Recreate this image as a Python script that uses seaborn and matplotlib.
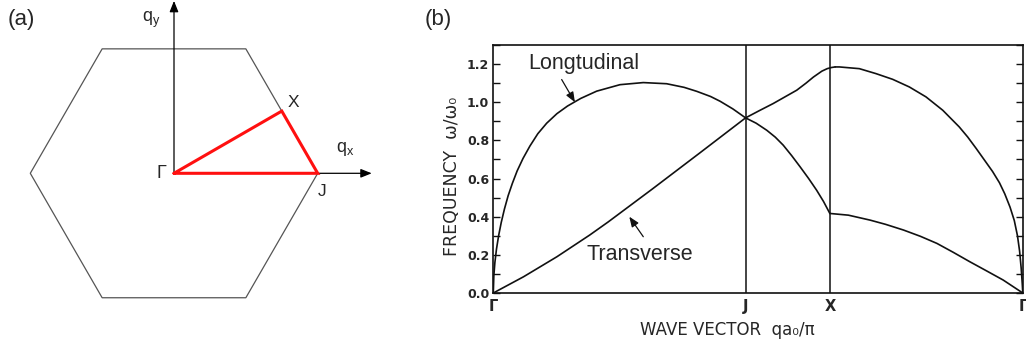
import numpy as np
import pandas as pd
import matplotlib
matplotlib.use("Agg")
import matplotlib.pyplot as plt
import seaborn as sns
from matplotlib.ticker import MultipleLocator, FixedLocator

# ---- dispersion data (q in units of the path length, frequency in ω/ω0) ----
path_labels = ["Γ", "J", "X", "Γ"]
path_pos = [0.0, 0.476, 0.635, 1.0]
freq_ticks = [0.0, 0.2, 0.4, 0.6, 0.8, 1.0, 1.2]

# longitudinal branch along Γ → J → X
q_long = [0.0, 0.001, 0.003, 0.006, 0.010, 0.015, 0.021, 0.028, 0.036,
          0.045, 0.056, 0.069, 0.084, 0.1007, 0.12, 0.14, 0.165, 0.195,
          0.239, 0.283, 0.327, 0.36, 0.384, 0.41, 0.428, 0.452, 0.476,
          0.496, 0.516, 0.532, 0.547, 0.563, 0.579, 0.595, 0.610, 0.623,
          0.635]
w_long = [0.0, 0.09, 0.16, 0.23, 0.30, 0.37, 0.44, 0.51, 0.575,
          0.64, 0.705, 0.77, 0.835, 0.89, 0.94, 0.98, 1.02, 1.058,
          1.092, 1.103, 1.097, 1.078, 1.057, 1.03, 1.005, 0.965, 0.918,
          0.89, 0.853, 0.817, 0.775, 0.72, 0.661, 0.60, 0.539, 0.48,
          0.417]

# transverse branch along Γ → J → X
q_trans = [0.0, 0.057, 0.12, 0.182, 0.217, 0.30, 0.39, 0.476, 0.502,
           0.528, 0.5725, 0.59, 0.604, 0.620, 0.630, 0.638, 0.645]
w_trans = [0.0, 0.085, 0.19, 0.304, 0.373, 0.545, 0.735, 0.918, 0.956,
           0.993, 1.063, 1.10, 1.132, 1.163, 1.176, 1.182, 1.185]

# upper branch along X → Γ
q_xg_upper = [0.645, 0.653, 0.6906, 0.722, 0.7536, 0.785, 0.8164, 0.848,
              0.879, 0.895, 0.911, 0.942, 0.955, 0.965, 0.975, 0.983, 0.989,
              0.993, 0.996, 0.998, 0.999]
w_xg_upper = [1.185, 1.185, 1.176, 1.150, 1.120, 1.080, 1.028, 0.958,
              0.871, 0.818, 0.758, 0.637, 0.578, 0.52, 0.45, 0.38, 0.30,
              0.22, 0.13, 0.05, 0.0]

# lower branch along X → Γ
q_xg_lower = [0.635, 0.67, 0.711, 0.74, 0.774, 0.806, 0.837, 0.868, 0.899,
              0.93, 0.962, 0.999]
w_xg_lower = [0.417, 0.408, 0.382, 0.36, 0.330, 0.297, 0.26, 0.213, 0.164,
              0.117, 0.068, 0.0]

branches = pd.concat([
    pd.DataFrame({"q": q_long, "w": w_long, "branch": "long"}),
    pd.DataFrame({"q": q_trans, "w": w_trans, "branch": "trans"}),
    pd.DataFrame({"q": q_xg_upper, "w": w_xg_upper, "branch": "xg_upper"}),
    pd.DataFrame({"q": q_xg_lower, "w": w_xg_lower, "branch": "xg_lower"}),
], ignore_index=True)

sns.set_theme(style="white")
plt.rcParams["font.family"] = ["Liberation Sans", "DejaVu Sans"]

W, H = 1026, 348
fig = plt.figure(figsize=(W / 100, H / 100), dpi=100)

# ---------------- (a) hexagonal Brillouin zone ----------------
R = 143.7  # vertex radius in pixels
axa = fig.add_axes([0, 0, 400 / W, 1])
axa.set_xlim(-174 / R, 226 / R)
axa.set_ylim(-174.7 / R, 173.3 / R)
axa.axis("off")

ang = np.deg2rad(np.arange(0, 361, 60))
axa.plot(np.cos(ang), np.sin(ang), color="#555555", lw=0.9, zorder=1)

arrow_kw = dict(arrowstyle="-|>,head_length=0.55,head_width=0.22",
                color="black", lw=0.9, shrinkA=0, shrinkB=0)
axa.annotate("", xy=(1.376, 0), xytext=(0, 0), arrowprops=arrow_kw, zorder=2)
axa.annotate("", xy=(0, 1.20), xytext=(0, 0), arrowprops=arrow_kw, zorder=2)

pt_J = (1.0, 0.0)
pt_X = (0.75, np.sqrt(3) / 4)
axa.plot([0, pt_J[0], pt_X[0], 0], [0, pt_J[1], pt_X[1], 0],
         color="#ff1010", lw=2.2, solid_joinstyle="miter", zorder=3)

axa.text(-0.055, 0.0, "Γ", fontsize=13, ha="right", va="center")
axa.text(0.83, 0.49, "X", fontsize=12.5, ha="center", va="center")
axa.text(1.03, -0.125, "J", fontsize=12.5, ha="center", va="center")
axa.text(1.19, 0.17, r"q$_\mathregular{x}$", fontsize=13, ha="center", va="center")
axa.text(-0.155, 1.07, r"q$_\mathregular{y}$", fontsize=13, ha="center", va="center")
fig.text(21.7 / W, 1 - 20 / H, "(a)", fontsize=16, ha="center", va="center")

# ---------------- (b) phonon dispersion ----------------
axb = fig.add_axes([493.3 / W, 1 - 293 / H, 530 / W, 248 / H])
ink = "#111111"
for name, grp in branches.groupby("branch", sort=False):
    sns.lineplot(data=grp, x="q", y="w", sort=False, estimator=None,
                 color=ink, lw=1.2, ax=axb, legend=False)

for xp in path_pos[1:3]:
    axb.axvline(xp, color=ink, lw=1.1)

axb.set_xlim(0, 1)
axb.set_ylim(0, 1.3)
for s in axb.spines.values():
    s.set_color(ink)
    s.set_linewidth(1.2)

axb.xaxis.set_major_locator(FixedLocator(path_pos))
axb.set_xticklabels(path_labels, family=["DejaVu Sans"], fontsize=10.5,
                    fontweight="bold")
axb.tick_params(axis="x", length=0, pad=4)

axb.yaxis.set_major_locator(FixedLocator(freq_ticks))
axb.set_yticklabels([f"{v:.1f}" for v in freq_ticks], family=["DejaVu Sans"],
                    fontsize=9, fontweight="bold")
axb.yaxis.set_minor_locator(MultipleLocator(0.1))
axb.tick_params(axis="y", which="both", direction="in", length=5, width=1,
                left=True, right=True, labelleft=True, labelright=False,
                color=ink, pad=3)

axb.set_ylabel("FREQUENCY  ω/ω₀", family=["DejaVu Sans"], fontsize=12.5,
               va="center", ha="center")
axb.yaxis.set_label_coords((452 - 493.3) / 530, (293 - 176) / 248)
axb.set_xlabel("WAVE VECTOR  qa₀/π", family=["DejaVu Sans"], fontsize=12,
               va="center", ha="center")
axb.xaxis.set_label_coords((727 - 493.3) / 530, (293 - 330) / 248)

axb.text(0.1715, 1.203, "Longtudinal", fontsize=15.5, ha="center", va="center")
axb.text(0.277, 0.204, "Transverse", fontsize=15.5, ha="center", va="center")
small_arrow = dict(arrowstyle="-|>,head_length=0.5,head_width=0.2",
                   color=ink, lw=0.9, shrinkA=0, shrinkB=0)
axb.annotate("", xy=(0.154, 1.0), xytext=(0.129, 1.119), arrowprops=small_arrow)
axb.annotate("", xy=(0.2566, 0.40), xytext=(0.283, 0.295), arrowprops=small_arrow)

fig.text(438 / W, 1 - 20 / H, "(b)", fontsize=16, ha="center", va="center")

fig.savefig("out.png", dpi=100)
